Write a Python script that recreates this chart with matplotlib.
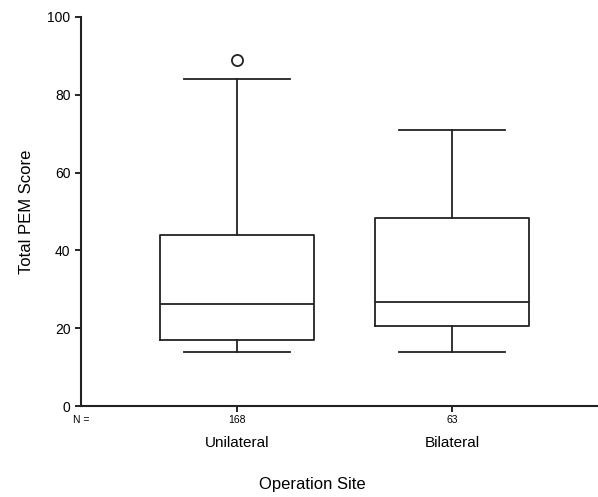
import matplotlib.pyplot as plt

plt.rcParams['font.family'] = ['Liberation Sans', 'DejaVu Sans']

groups = ["Unilateral", "Bilateral"]
counts = [168, 63]
medians = [26.2, 26.8]
q1 = [17.0, 20.5]
q3 = [44.0, 48.2]
whisk_lo = [14.0, 14.0]
whisk_hi = [84.0, 71.0]
outliers = [[89.0], []]

stats = []
for i in range(len(groups)):
    stats.append({
        "med": medians[i], "q1": q1[i], "q3": q3[i],
        "whislo": whisk_lo[i], "whishi": whisk_hi[i],
        "fliers": outliers[i], "label": str(counts[i]),
    })

fig = plt.figure(figsize=(5.98, 4.97), dpi=100)
ax = fig.add_axes([0.1355, 0.183, 0.8645, 0.783])

lw = 1.3
ax.bxp(stats, positions=[1, 2], widths=0.716, capwidths=0.49,
       boxprops=dict(color='#222222', linewidth=lw),
       medianprops=dict(color='#222222', linewidth=lw),
       whiskerprops=dict(color='#222222', linewidth=lw),
       capprops=dict(color='#222222', linewidth=lw),
       flierprops=dict(marker='o', markerfacecolor='white',
                       markeredgecolor='#222222', markersize=8, markeredgewidth=1.3))

ax.set_xlim(0.274, 2.679)
ax.set_ylim(0, 100)
ax.set_yticks([0, 20, 40, 60, 80, 100])
ax.tick_params(axis='y', labelsize=10, length=4, width=1.2, direction='out')
ax.tick_params(axis='x', labelsize=7.5, length=4, width=1.2, direction='out', pad=2.5)

for s in ['top', 'right']:
    ax.spines[s].set_visible(False)
for s in ['left', 'bottom']:
    ax.spines[s].set_linewidth(1.5)
    ax.spines[s].set_color('#222222')

ax.text(0.274, -2.3, "N =", fontsize=7.5, ha='center', va='top')
for i, g in enumerate(groups):
    ax.text(i + 1, -7.6, g, fontsize=11, ha='center', va='top')

ax.set_ylabel("Total PEM Score", fontsize=12, labelpad=10)
fig.text(312 / 598, 1 - 485 / 497, "Operation Site", fontsize=12, ha='center', va='center')

fig.savefig("out.png", dpi=100)
